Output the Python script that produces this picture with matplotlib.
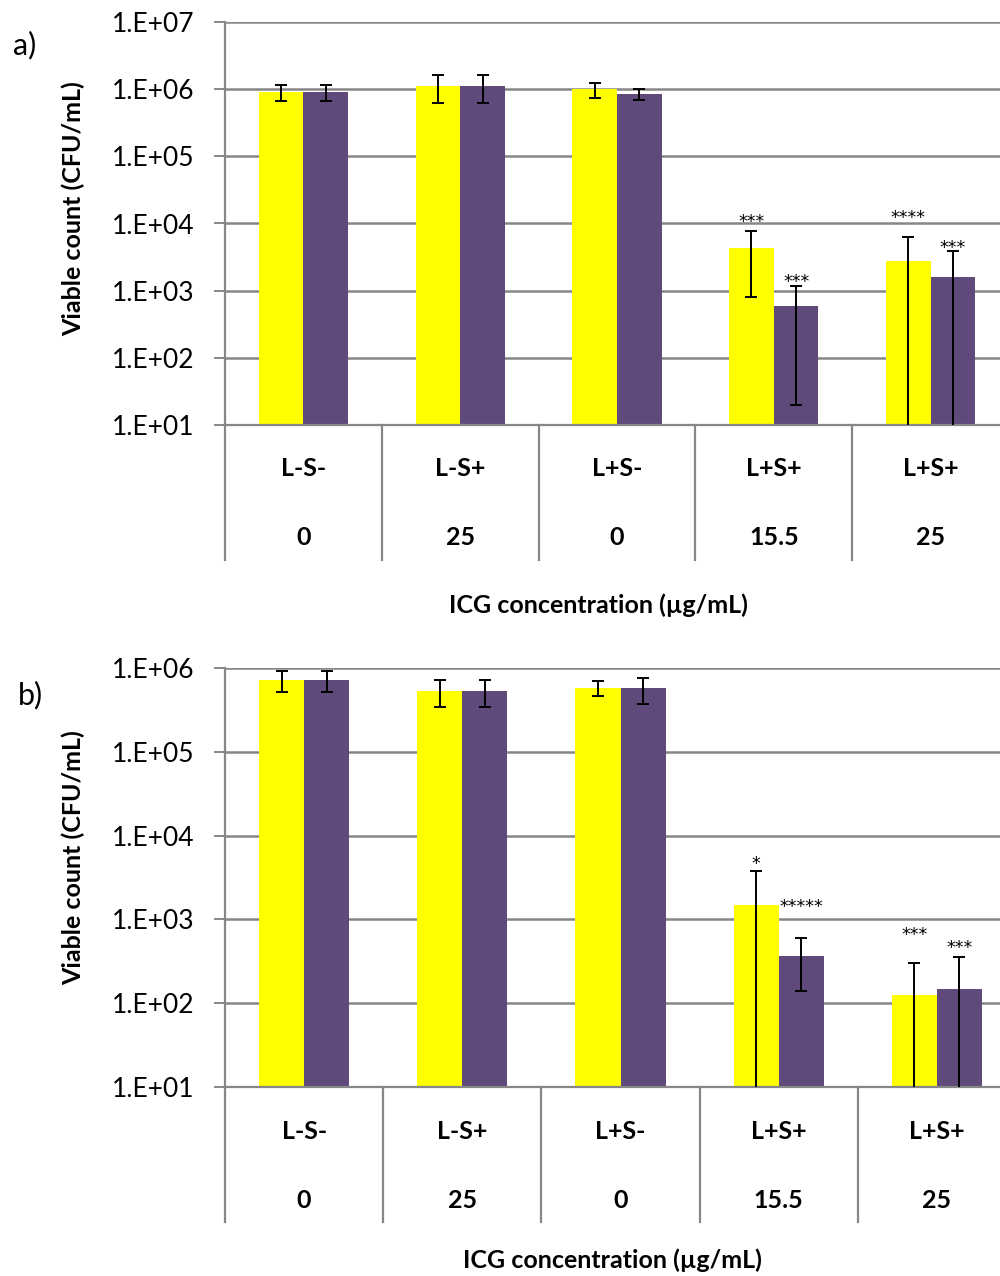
import numpy as np
import matplotlib.pyplot as plt
from matplotlib.ticker import FixedLocator, FuncFormatter, NullLocator

plt.rcParams['font.family'] = ['Lato', 'DejaVu Sans']

# Categories
groups = ['L-S-', 'L-S+', 'L+S-', 'L+S+', 'L+S+']
icg = ['0', '25', '0', '15.5', '25']

# Panel a) means and SD (CFU/mL)
a_yellow = [9.1e5, 1.12e6, 1.0e6, 4.3e3, 2.8e3]
a_yellow_sd = [2.5e5, 5.0e5, 2.5e5, 3.5e3, 3.4e3]
a_purple = [9.2e5, 1.12e6, 8.5e5, 6.0e2, 1.6e3]
a_purple_sd = [2.5e5, 5.0e5, 1.5e5, 5.8e2, 2.3e3]
# (group, series, stars, y of label)
a_stars = [(3, 0, '***', 1.29e4), (3, 1, '***', 1.65e3),
           (4, 0, '****', 1.48e4), (4, 1, '***', 5.2e3)]

# Panel b)
b_yellow = [7.2e5, 5.3e5, 5.8e5, 1.5e3, 1.25e2]
b_yellow_sd = [2.0e5, 1.85e5, 1.15e5, 2.25e3, 1.8e2]
b_purple = [7.2e5, 5.3e5, 5.7e5, 3.7e2, 1.47e2]
b_purple_sd = [2.0e5, 1.85e5, 1.95e5, 2.3e2, 2.06e2]
b_stars = [(3, 0, '*', 5.4e3), (3, 1, '*****', 1.63e3),
           (4, 0, '***', 7.5e2), (4, 1, '***', 5.3e2)]

YELLOW = '#FFFF00'
PURPLE = '#604A7B'
GRAY = '#878787'
W = 0.285

fig = plt.figure(figsize=(10, 12.76), dpi=100)


def lower_err(m, sd):
    # bars whose SD exceeds the mean run off the bottom of the log axis
    m = np.array(m)
    sd = np.array(sd)
    return np.where(m - sd > 0, sd, m - 1)


def panel(rect, yel, yel_sd, pur, pur_sd, stars, ymax, row1_y, row2_y, sep_len):
    ax = fig.add_axes(rect)
    x = np.arange(len(groups))
    ax.bar(x - W / 2, yel, W, color=YELLOW, zorder=2)
    ax.bar(x + W / 2, pur, W, color=PURPLE, zorder=2)
    for xs, m, sd in [(x - W / 2, yel, yel_sd), (x + W / 2, pur, pur_sd)]:
        ax.errorbar(xs, m, yerr=[lower_err(m, sd), sd], fmt='none',
                    ecolor='black', elinewidth=1.4, capsize=4.5,
                    capthick=1.4, zorder=3)
    for g, s, txt, y in stars:
        xx = g - W / 2 if s == 0 else g + W / 2
        ax.annotate(txt, (xx, y), xytext=(0, -4), textcoords='offset points',
                    ha='center', va='center', fontsize=12.5,
                    family='DejaVu Sans', color='black')

    ax.set_yscale('log')
    ax.set_ylim(10, ymax)
    ax.set_xlim(-0.5, 4.5)
    ticks = 10.0 ** np.arange(1, int(np.log10(ymax)) + 1)
    ax.yaxis.set_major_locator(FixedLocator(ticks))
    ax.yaxis.set_minor_locator(NullLocator())
    ax.yaxis.set_major_formatter(FuncFormatter(
        lambda v, p: '1.E+%02d' % int(round(np.log10(v)))))
    ax.tick_params(axis='y', direction='out', length=8, width=1.4,
                   color=GRAY, labelsize=19, pad=14)
    ax.set_xticks([])
    ax.grid(axis='y', color=GRAY, linewidth=1.8)
    ax.set_axisbelow(True)
    for sp in ['top', 'right']:
        ax.spines[sp].set_visible(False)
    for sp in ['left', 'bottom']:
        ax.spines[sp].set_color(GRAY)
        ax.spines[sp].set_linewidth(1.6)

    tr = ax.get_xaxis_transform()
    for b in np.arange(-0.5, 5.0, 1.0):
        ax.plot([b, b], [0, -sep_len], color=GRAY, lw=1.6,
                transform=tr, clip_on=False)
    for i in range(len(groups)):
        ax.text(i, row1_y, groups[i], transform=tr, ha='center',
                va='center', fontsize=18, fontweight='bold')
        ax.text(i, row2_y, icg[i], transform=tr, ha='center',
                va='center', fontsize=18, fontweight='bold')
    return ax


panel([0.225, 1 - 425 / 1276, 0.784, 403 / 1276],
      a_yellow, a_yellow_sd, a_purple, a_purple_sd, a_stars,
      1e7, -0.109, -0.280, 0.335)
panel([0.225, 1 - 1087 / 1276, 0.791, 419 / 1276],
      b_yellow, b_yellow_sd, b_purple, b_purple_sd, b_stars,
      1e6, -0.107, -0.270, 0.322)

fig.text(0.025, 1 - 45 / 1276, 'a)', fontsize=22, ha='center', va='center')
fig.text(0.030, 1 - 695 / 1276, 'b)', fontsize=22, ha='center', va='center')
fig.text(0.073, 1 - 209 / 1276, 'Viable count (CFU/mL)', rotation=90,
         fontsize=18, fontweight='bold', ha='center', va='center')
fig.text(0.073, 1 - 858 / 1276, 'Viable count (CFU/mL)', rotation=90,
         fontsize=18, fontweight='bold', ha='center', va='center')
fig.text(0.598, 1 - 605 / 1276, 'ICG concentration (µg/mL)',
         fontsize=18, fontweight='bold', ha='center', va='center')
fig.text(0.612, 1 - 1260 / 1276, 'ICG concentration (µg/mL)',
         fontsize=18, fontweight='bold', ha='center', va='center')

fig.savefig('out.png', dpi=100)
